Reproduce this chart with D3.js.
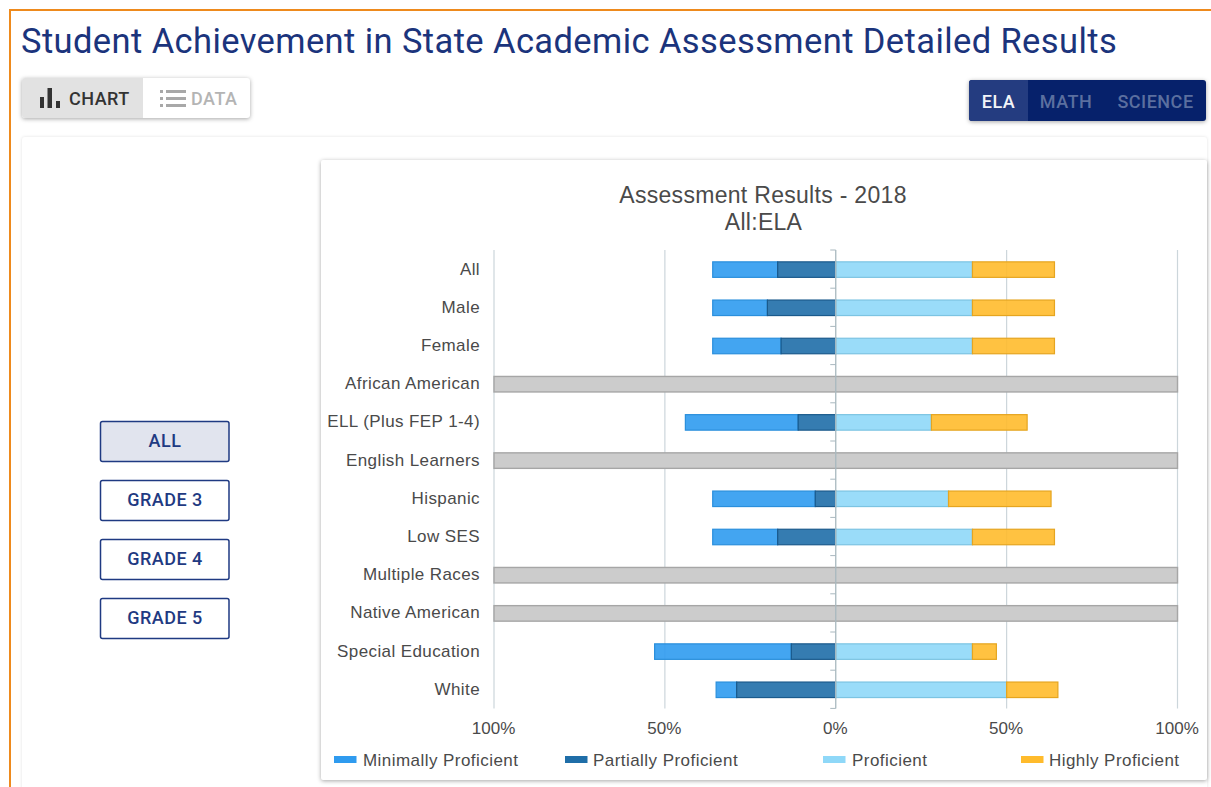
<!DOCTYPE html>
<html><head><meta charset="utf-8">
<script src="https://cdn.jsdelivr.net/npm/d3@7/dist/d3.min.js"></script>
<style>
html,body{margin:0;padding:0;background:#fff;overflow:hidden}
svg{display:block}
text{font-family:Roboto,sans-serif}
.shadow{filter:drop-shadow(0 1px 2px rgba(0,0,0,.35))}
.soft{filter:drop-shadow(0 0 1.5px rgba(0,0,0,.12))}
.chartText{font-family:"Liberation Sans",Arial,sans-serif;fill:#4a4a4a}
</style></head><body>
<script>
const categories=["All","Male","Female","African American","ELL (Plus FEP 1-4)","English Learners","Hispanic","Low SES","Multiple Races","Native American","Special Education","White"];
const minimallyProficient=[19,16,20,null,33,null,30,19,null,null,40,6];
const partiallyProficient=[17,20,16,null,11,null,6,17,null,null,13,29];
const proficient=[40,40,40,null,28,null,33,40,null,null,40,50];
const highlyProficient=[24,24,24,null,28,null,30,24,null,null,7,15];
const axisTicks=[-100,-50,0,50,100];
const seriesNames=["Minimally Proficient","Partially Proficient","Proficient","Highly Proficient"];
const seriesFill=["#2f9bef","#1f6ea8","#8fd8f8","#ffbb2c"];
const seriesStroke=["#2a8fdc","#1a5a8c","#7cc4e2","#e5a520"];
const legendX=[334,565,823,1021];
const filterButtons=["ALL","GRADE 3","GRADE 4","GRADE 5"];
const subjectTabs=["ELA","MATH","SCIENCE"];

const svg=d3.select("body").append("svg").attr("width",1211).attr("height",787);
svg.append("rect").attr("x",10).attr("y",10).attr("width",1300).attr("height",900).attr("fill","#fff").attr("stroke","#ee8a1d").attr("stroke-width",2);
svg.append("text").attr("x",21).attr("y",53).attr("font-size",34.5).attr("letter-spacing",.4).attr("fill","#1b347c").text("Student Achievement in State Academic Assessment Detailed Results");

svg.append("rect").attr("class","shadow").attr("x",22).attr("y",78).attr("width",228).attr("height",40).attr("rx",3).attr("fill","#fff");
svg.append("path").attr("d","M25 78H143V118H25a3 3 0 0 1-3-3V81a3 3 0 0 1 3-3z").attr("fill","#e2e2e2");
[[40,97,4,11],[47.5,88,4.5,20],[56,101,4,7]].forEach(r=>svg.append("rect").attr("x",r[0]).attr("y",r[1]).attr("width",r[2]).attr("height",r[3]).attr("fill","#333"));
svg.append("text").attr("x",69).attr("y",105).attr("font-size",18).attr("letter-spacing",.5).attr("font-weight",500).attr("fill","#333").text("CHART");
[91.5,98.5,105.5].forEach(y=>{
  svg.append("rect").attr("x",160).attr("y",y-1.5).attr("width",3).attr("height",3).attr("fill","#a8a8a8");
  svg.append("rect").attr("x",166).attr("y",y-1.5).attr("width",20).attr("height",3).attr("fill","#a8a8a8");
});
svg.append("text").attr("x",191).attr("y",105).attr("font-size",18).attr("letter-spacing",.5).attr("font-weight",500).attr("fill","#b4b4b4").text("DATA");

svg.append("rect").attr("class","shadow").attr("x",969).attr("y",80).attr("width",237).attr("height",41).attr("rx",3).attr("fill","#06216b");
svg.append("path").attr("d","M972 80H1028V121H972a3 3 0 0 1-3-3V83a3 3 0 0 1 3-3z").attr("fill","#243c80");
const tabX=[998.5,1066,1155.5];
svg.selectAll(".tab").data(subjectTabs).join("text").attr("class","tab")
  .attr("x",(d,i)=>tabX[i]).attr("y",108).attr("text-anchor","middle").attr("font-size",18).attr("letter-spacing",.5).attr("font-weight",500)
  .attr("fill",(d,i)=>i===0?"#f2f4f8":"#5b6f9f").text(d=>d);

svg.append("rect").attr("class","soft").attr("x",22).attr("y",137).attr("width",1185).attr("height",700).attr("rx",3).attr("fill","#fff");
svg.append("rect").attr("class","shadow").attr("x",321).attr("y",160).attr("width",886).attr("height",620).attr("rx",2).attr("fill","#fff");

const btnY=d3.scalePoint().domain(filterButtons).range([421,598]);
const btn=svg.selectAll(".btn").data(filterButtons).join("g").attr("class","btn").attr("transform",d=>`translate(100,${btnY(d)})`);
btn.append("rect").attr("x",.5).attr("y",.5).attr("width",128.5).attr("height",40).attr("rx",2)
  .attr("fill",(d,i)=>i===0?"#e1e4ee":"#fff").attr("stroke","#1f3a82").attr("stroke-width",1.5);
btn.append("text").attr("x",65).attr("y",26).attr("text-anchor","middle").attr("font-size",18).attr("letter-spacing",.5).attr("font-weight",500).attr("fill","#1f3a82").text(d=>d);

const x=d3.scaleLinear().domain([-100,100]).range([494,1177.5]);
const y=d3.scaleBand().domain(categories).range([250,708.4]);
svg.append("text").attr("class","chartText").attr("x",763).attr("y",202.5).attr("text-anchor","middle").attr("font-size",23).attr("letter-spacing",.3).text("Assessment Results - 2018");
svg.append("text").attr("class","chartText").attr("x",763.5).attr("y",229.5).attr("text-anchor","middle").attr("font-size",23).attr("letter-spacing",.3).text("All:ELA");

svg.selectAll(".grid").data(axisTicks.filter(d=>d!==0)).join("line").attr("class","grid")
  .attr("x1",d=>x(d)).attr("x2",d=>x(d)).attr("y1",250).attr("y2",708.4).attr("stroke","#ccd6db").attr("stroke-width",1.2);

const barH=15.5;
const barTop=d=>y(d)+(y.bandwidth()-barH)/2+.5;
categories.forEach((c,i)=>{
  if(minimallyProficient[i]===null){
    svg.append("rect").attr("x",x(-100)).attr("y",barTop(c)).attr("width",x(100)-x(-100)).attr("height",barH)
      .attr("fill","#cccccc").attr("stroke","#a6a6a6").attr("stroke-width",1.4);
    return;
  }
  const vals=[minimallyProficient[i],partiallyProficient[i],proficient[i],highlyProficient[i]];
  const spans=[[-(vals[0]+vals[1]),-vals[1]],[-vals[1],0],[0,vals[2]],[vals[2],vals[2]+vals[3]]];
  spans.forEach((s,k)=>{
    svg.append("rect").attr("x",x(s[0])).attr("y",barTop(c)).attr("width",x(s[1])-x(s[0])).attr("height",barH)
      .attr("fill",seriesFill[k]).attr("fill-opacity",.9).attr("stroke",seriesStroke[k]).attr("stroke-width",1.2);
  });
});

const bandEdges=categories.map(c=>y(c)).concat([y.range()[1]]);
svg.append("line").attr("x1",x(0)).attr("x2",x(0)).attr("y1",250).attr("y2",708.4).attr("stroke","#a9b8bf").attr("stroke-width",1.3);
svg.selectAll(".tk").data(bandEdges).join("line").attr("class","tk")
  .attr("x1",x(0)-5.5).attr("x2",x(0)).attr("y1",d=>d).attr("y2",d=>d).attr("stroke","#a9b8bf").attr("stroke-width",1);

const yAxis=svg.append("g").attr("transform","translate(480,0)").call(d3.axisLeft(y).tickSize(0).tickPadding(0));
yAxis.select(".domain").remove();
yAxis.selectAll("text").attr("class","chartText").style("font-size","17px").style("letter-spacing",".4px").attr("dy","0.32em");
const xAxis=svg.append("g").attr("transform","translate(-1,721.5)").call(d3.axisBottom(x).tickValues(axisTicks).tickSize(0).tickPadding(0).tickFormat(d=>Math.abs(d)+"%"));
xAxis.select(".domain").remove();
xAxis.selectAll("text").attr("class","chartText").style("font-size","17px").attr("y",0).attr("dy","0.75em");

const leg=svg.selectAll(".leg").data(seriesNames).join("g").attr("class","leg").attr("transform",(d,i)=>`translate(${legendX[i]},756)`);
leg.append("rect").attr("width",22.5).attr("height",7).attr("fill",(d,i)=>seriesFill[i]);
leg.append("text").attr("class","chartText").attr("x",(d,i)=>[29,28,29,28][i]).attr("y",9.5).style("font-size","17px").style("letter-spacing",".45px").text(d=>d);
</script>
</body></html>
